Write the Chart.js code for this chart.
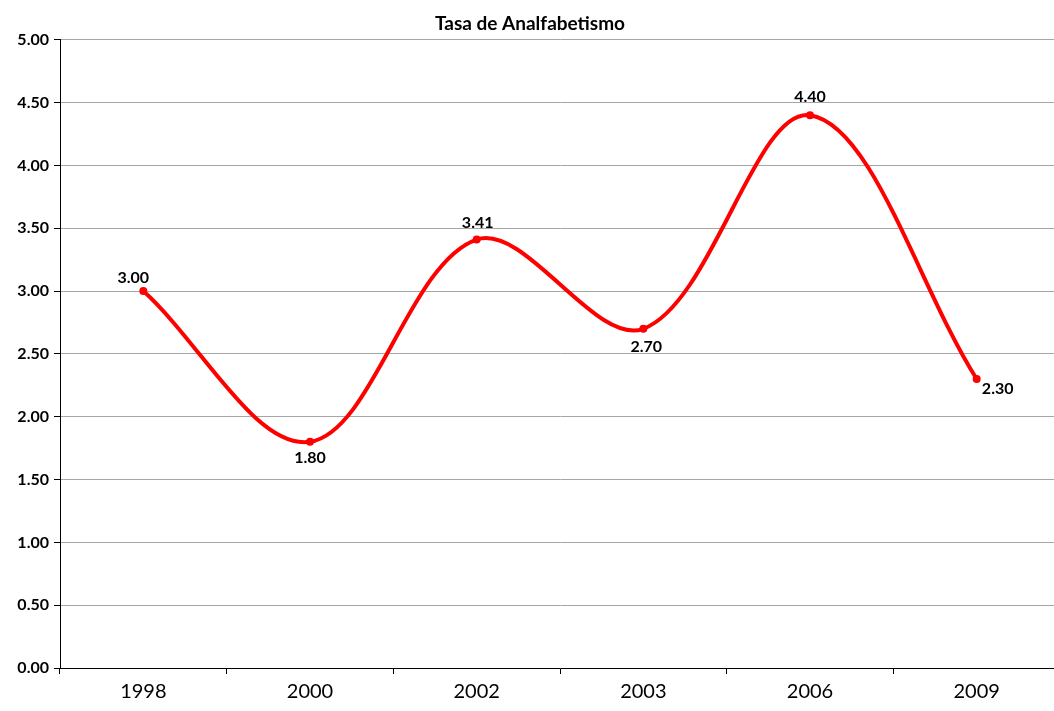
<!DOCTYPE html>
<html>
<head>
<meta charset="utf-8">
<script src="https://cdn.jsdelivr.net/npm/chart.js@4.4.1/dist/chart.umd.min.js"></script>
<style>
  html, body { margin: 0; padding: 0; background: #fff; overflow: hidden; }
  #wrap { position: absolute; left: 0; top: 0; width: 1064px; height: 711px; }
</style>
</head>
<body>
<div id="wrap"><canvas id="chart" width="1064" height="711"></canvas></div>
<script>
const years = ["1998", "2000", "2002", "2003", "2006", "2009"];
const rates = [3.00, 1.80, 3.41, 2.70, 4.40, 2.30];
const yTicks = [0, 0.5, 1, 1.5, 2, 2.5, 3, 3.5, 4, 4.5, 5];

const FONT = "Lato, 'Open Sans', 'DejaVu Sans', sans-serif";

// where each value label sits relative to its point: [dx, dy]
const labelOffsets = [[-10, -13], [0, 16], [1, -17], [3, 18], [0, -18], [21, 10]];

const valueLabels = {
  id: "valueLabels",
  afterDatasetsDraw(chart) {
    const ctx = chart.ctx;
    const meta = chart.getDatasetMeta(0);
    ctx.save();
    ctx.font = "bold 16px " + FONT;
    ctx.fillStyle = "#000";
    ctx.textAlign = "center";
    ctx.textBaseline = "middle";
    meta.data.forEach((pt, i) => {
      const [dx, dy] = labelOffsets[i];
      ctx.fillText(rates[i].toFixed(2), pt.x + dx, pt.y + dy);
    });
    ctx.restore();
  }
};

new Chart(document.getElementById("chart"), {
  type: "line",
  data: {
    labels: years,
    datasets: [{
      data: rates,
      borderColor: "#FF0000",
      backgroundColor: "#FF0000",
      borderWidth: 4,
      pointRadius: 4,
      pointBorderWidth: 0,
      tension: 0.35,
    }],
  },
  options: {
    responsive: false,
    animation: false,
    layout: { padding: { left: 0, right: 4, top: 0, bottom: 0 } },
    plugins: {
      legend: { display: false },
      tooltip: { enabled: false },
      title: {
        display: true,
        text: "Tasa de Analfabetismo",
        color: "#000",
        font: { family: FONT, size: 19, weight: "bold" },
        padding: { top: 12, bottom: 5 },
      },
    },
    scales: {
      x: {
        offset: true,
        grid: {
          offset: true,
          drawOnChartArea: false,
          drawTicks: true,
          tickLength: 6,
          tickColor: "#000",
        },
        border: { color: "#000", width: 1 },
        ticks: {
          color: "#000",
          padding: 6,
          font: { family: FONT, size: 20 },
        },
        afterFit(scale) { scale.height = 43; },
      },
      y: {
        min: 0,
        max: 5,
        afterBuildTicks(scale) { scale.ticks = yTicks.map(v => ({ value: v })); },
        grid: {
          color: "#a6a6a6",
          tickColor: "#000",
          tickLength: 6,
        },
        border: { color: "#000", width: 1 },
        ticks: {
          color: "#000",
          padding: 5,
          font: { family: FONT, size: 16, weight: "bold" },
          callback: v => Number(v).toFixed(2),
        },
        afterFit(scale) { scale.width = 60; },
      },
    },
  },
  plugins: [valueLabels],
});
</script>
</body>
</html>
